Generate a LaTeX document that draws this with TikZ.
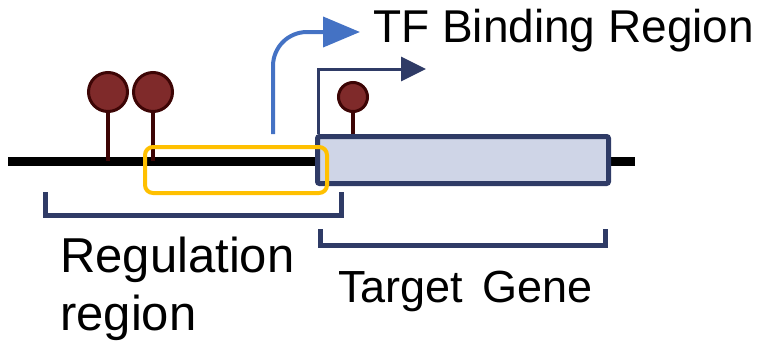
\documentclass[tikz,border=0pt]{standalone}
\usepackage{fontspec}
\setmainfont{Liberation Sans}
\usetikzlibrary{arrows.meta}
\definecolor{navy}{HTML}{2F3B66}
\definecolor{genefill}{HTML}{CFD5E7}
\definecolor{pinfill}{HTML}{7F2A2A}
\definecolor{pinline}{HTML}{3D0505}
\definecolor{tfblue}{HTML}{4472C4}
\definecolor{gold}{HTML}{FFC000}
\begin{document}
\begin{tikzpicture}[x=1pt,y=-1pt,
  pinhead/.style={circle,draw=pinline,fill=pinfill,line width=3pt,inner sep=0pt},
  pinstem/.style={draw=pinline,line width=4pt},
  bracket/.style={draw=navy,line width=5pt},
  lbl/.style={inner sep=0pt,anchor=base west,text=black}]
\useasboundingbox (0,0) rectangle (760,348);
% DNA line
\coordinate (l0) at (8,161);
\coordinate (l1) at (635,161);
\draw[line width=9pt] (l0) -- (l1);
% gene box
\node[draw=navy,fill=genefill,line width=5pt,rounded corners=2pt,minimum width=291pt,minimum height=47pt,inner sep=0pt] (gene) at (463,160) {};
% pins
\node[pinhead,minimum size=39pt] (p1) at (108,92) {};
\node[pinhead,minimum size=39pt] (p2) at (153,92) {};
\node[pinhead,minimum size=29pt] (p3) at (353,97) {};
\coordinate (s1) at (108,161);
\coordinate (s2) at (153,161);
\coordinate (s3) at (353,134);
\draw[pinstem] (p1.south) -- (s1);
\draw[pinstem] (p2.south) -- (s2);
\draw[pinstem] (p3.south) -- (s3);
% yellow TF binding box
\node[draw=gold,line width=4pt,rounded corners=8pt,minimum width=182pt,minimum height=46pt,inner sep=0pt] (tfb) at (236,170) {};
% blue arrow
\coordinate (b0) at (273,134);
\coordinate (bc) at (273,32);
\coordinate (b1) at (360,32);
\draw[tfblue,line width=4pt,rounded corners=34pt,-{Triangle[length=37pt,width=30pt]}] (b0) -- (bc) -- (b1);
% navy arrow
\coordinate (n0) at (318,134);
\coordinate (nc) at (318,69);
\coordinate (n1) at (426,69);
\draw[navy,line width=3pt,-{Triangle[length=25pt,width=24pt]}] (n0) -- (nc) -- (n1);
% brackets
\coordinate (r0) at (45,192);
\coordinate (r1) at (341,192);
\draw[bracket] (r0) -- (45,215) -- (341,215) -- (r1);
\coordinate (t0) at (320,229);
\coordinate (t1) at (605,229);
\draw[bracket] (t0) -- (320,245) -- (605,245) -- (t1);
% labels
\node[lbl,font=\fontsize{46}{50}\selectfont] (tft) at (373,42) {TF Binding Region};
\node[lbl,font=\fontsize{49}{50}\selectfont] (reg1) at (60,272) {Regulation};
\node[lbl,font=\fontsize{49}{50}\selectfont] (reg2) at (60,330) {region};
\node[lbl,font=\fontsize{45}{50}\selectfont] (tg) at (338,302) {Target\hspace{7pt} Gene};
\end{tikzpicture}
\end{document}
